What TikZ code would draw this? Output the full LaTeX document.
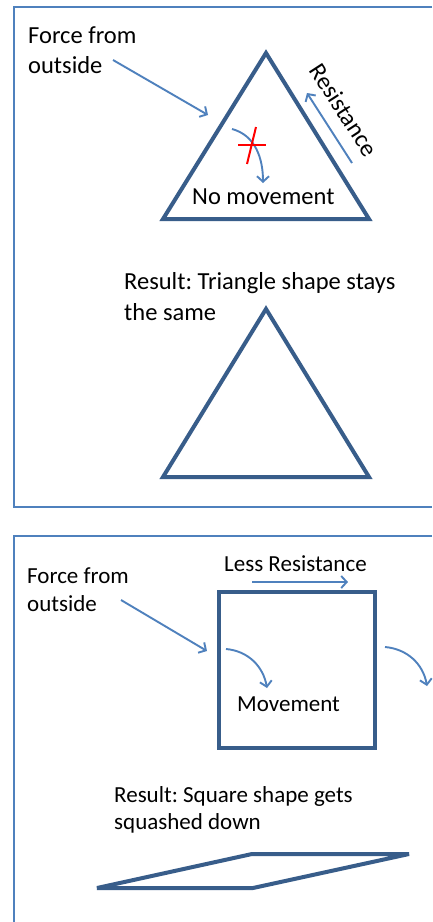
\documentclass[tikz,border=0pt]{standalone}
\usepackage{fontspec}
\setmainfont{Carlito}
\frenchspacing
\usetikzlibrary{arrows.meta}
\definecolor{frameblue}{HTML}{4F81BD}
\definecolor{shapeblue}{HTML}{385D8A}
\begin{document}
\frenchspacing
\begin{tikzpicture}[x=1pt,y=-1pt,
  frame/.style={draw=frameblue,line width=2pt},
  shapeline/.style={draw=shapeblue,line width=4pt,line join=miter},
  bluearrow/.style={draw=frameblue,line width=1.9pt,-{Straight Barb[length=5.5pt,width=12pt,line width=1.9pt]}},
  lblbig/.style={inner sep=0pt,font=\fontsize{24.5}{29}\selectfont},
  lblsmall/.style={inner sep=0pt,font=\fontsize{23}{28}\selectfont},
  crossline/.style={draw=red,line width=2pt}]
\useasboundingbox (0,0) rectangle (432,922);
\fill[white] (0,0) rectangle (432,922);

% ---------- top panel ----------
\draw[frame] (432,7) -- (14,7) -- (14,507) -- (432,507);

\coordinate (tA) at (266,53);
\coordinate (tL) at (163,219);
\coordinate (tR) at (369,219);
\draw[shapeline] (tA) -- (tL) -- (tR) -- cycle;

\node[lblbig,anchor=base west] (forceA1) at (28,43) {Force from};
\node[lblbig,anchor=base west] (forceA2) at (28,73) {outside};
\coordinate (fA1) at (113,60);
\coordinate (fA2) at (208,115);
\draw[bluearrow] (fA1) -- (fA2);

\coordinate (rA1) at (352,163);
\coordinate (rA2) at (307,93);
\draw[bluearrow] (rA1) -- (rA2);
\node[lblbig,rotate=-57] (resist) at (344,110) {Resistance};

\coordinate (cA1) at (232,129);
\coordinate (cA2) at (263,183);
\draw[bluearrow] (cA1) to[out=-15,in=90] (cA2);
\coordinate (x1) at (238,145);
\coordinate (x2) at (266,145);
\coordinate (x3) at (247,164);
\coordinate (x4) at (256,127);
\draw[crossline] (x1) -- (x2);
\draw[crossline] (x3) -- (x4);

\node[lblbig,anchor=base west] (nomove) at (192,204) {No movement};

\node[lblbig,anchor=base west] (resA1) at (124,289) {Result: Triangle shape stays};
\node[lblbig,anchor=base west] (resA2) at (124,320) {the same};

\coordinate (uA) at (266,309);
\coordinate (uL) at (163,477);
\coordinate (uR) at (369,477);
\draw[shapeline] (uA) -- (uL) -- (uR) -- cycle;

% ---------- bottom panel ----------
\draw[frame] (432,536) -- (14,536) -- (14,922);

\draw[shapeline] (219,592) rectangle (374.5,748);

\node[lblsmall,anchor=base west] (less) at (224,571) {Less Resistance};
\coordinate (lr1) at (252,582);
\coordinate (lr2) at (348,582);
\draw[bluearrow] (lr1) -- (lr2);

\node[lblsmall,anchor=base west] (forceB1) at (27,583) {Force from};
\node[lblsmall,anchor=base west] (forceB2) at (27,611) {outside};
\coordinate (fB1) at (121,600);
\coordinate (fB2) at (207,651);
\draw[bluearrow] (fB1) -- (fB2);

\coordinate (mB1) at (226,649);
\coordinate (mB2) at (267,688);
\draw[bluearrow] (mB1) to[out=-5,in=100] (mB2);
\coordinate (oB1) at (385,647);
\coordinate (oB2) at (427,686);
\draw[bluearrow] (oB1) to[out=-5,in=100] (oB2);

\node[lblsmall,anchor=base west] (move) at (237,711) {Movement};

\node[lblsmall,anchor=base west] (resB1) at (114,802) {Result: Square shape gets};
\node[lblsmall,anchor=base west] (resB2) at (114,829) {squashed down};

\coordinate (p1) at (97,888);
\coordinate (p2) at (252,854);
\coordinate (p3) at (409,854);
\coordinate (p4) at (253,888);
\draw[shapeline,line join=bevel] (p1) -- (p2) -- (p3) -- (p4) -- cycle;
\end{tikzpicture}
\end{document}
